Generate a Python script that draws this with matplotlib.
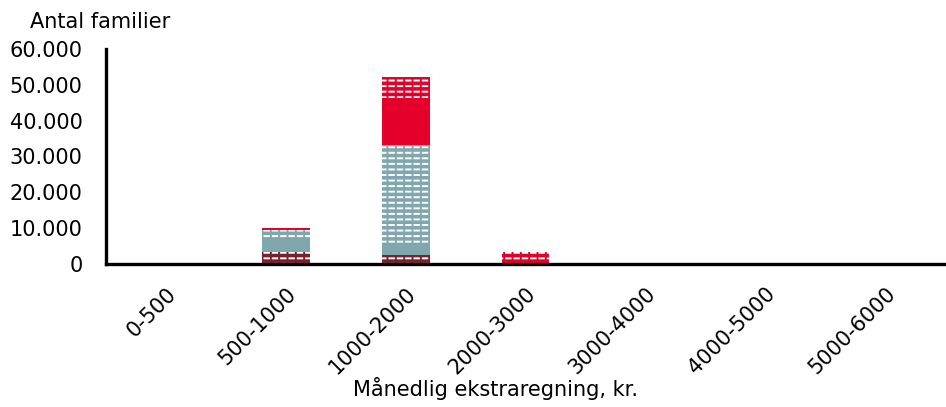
import numpy as np
import matplotlib.pyplot as plt

plt.rcParams['font.family'] = ['DejaVu Sans']
plt.rcParams['hatch.linewidth'] = 1.4

categories = ["0-500", "500-1000", "1000-2000", "2000-3000", "3000-4000", "4000-5000", "5000-6000"]
# stacked series, bottom to top
darkred_hatch = [400, 3300, 2500, 0, 0, 0, 0]
teal_solid = [0, 3700, 2800, 0, 0, 0, 0]
teal_hatch = [0, 2400, 27900, 0, 0, 0, 0]
red_solid = [0, 700, 13100, 300, 0, 0, 0]
red_hatch = [0, 0, 5900, 3000, 0, 0, 0]

series = [
    (darkred_hatch, "#7a1f2b", True),
    (teal_solid, "#7fa7ad", False),
    (teal_hatch, "#7fa7ad", True),
    (red_solid, "#e4002b", False),
    (red_hatch, "#e4002b", True),
]

fig = plt.figure(figsize=(9.46, 4.07), dpi=100)
ax = fig.add_axes([106 / 946, 1 - 264 / 407, (945 - 106) / 946, (264 - 49) / 407])

x = np.arange(len(categories))
bottom = np.zeros(len(categories))
for vals, col, hatched in series:
    vals = np.array(vals, dtype=float)
    ax.bar(x, vals, 0.40, bottom=bottom, color=col, linewidth=0)
    if hatched:
        # white horizontal lines, then broken into dashes by coloured verticals
        ax.bar(x, vals, 0.40, bottom=bottom, facecolor="none", edgecolor="white",
               linewidth=0, hatch="---")
        ax.bar(x, vals, 0.40, bottom=bottom, facecolor="none", edgecolor=col,
               linewidth=0, hatch="||")
    bottom += vals

ax.set_xlim(-0.5, 6.5)
ax.set_ylim(0, 60000)
ax.set_yticks(np.arange(0, 60001, 10000))
ax.set_yticklabels(["0" if v == 0 else f"{v // 1000}.000" for v in range(0, 60001, 10000)],
                   fontsize=15)
ax.set_xticks(x)
ax.set_xticklabels(categories, rotation=45, ha="right", rotation_mode="anchor", fontsize=15)
ax.tick_params(length=0)
ax.tick_params(axis="y", pad=17)
ax.tick_params(axis="x", pad=14)

for s in ["top", "right"]:
    ax.spines[s].set_visible(False)
for s in ["left", "bottom"]:
    ax.spines[s].set_linewidth(2.4)
    ax.spines[s].set_color("black")

fig.text(30 / 946, 1 - 22 / 407, "Antal familier", fontsize=15, va="center", ha="left")
fig.text(495 / 946, 1 - 388 / 407, "Månedlig ekstraregning, kr.", fontsize=15,
         va="center", ha="center")

fig.savefig("out.png", dpi=100)
